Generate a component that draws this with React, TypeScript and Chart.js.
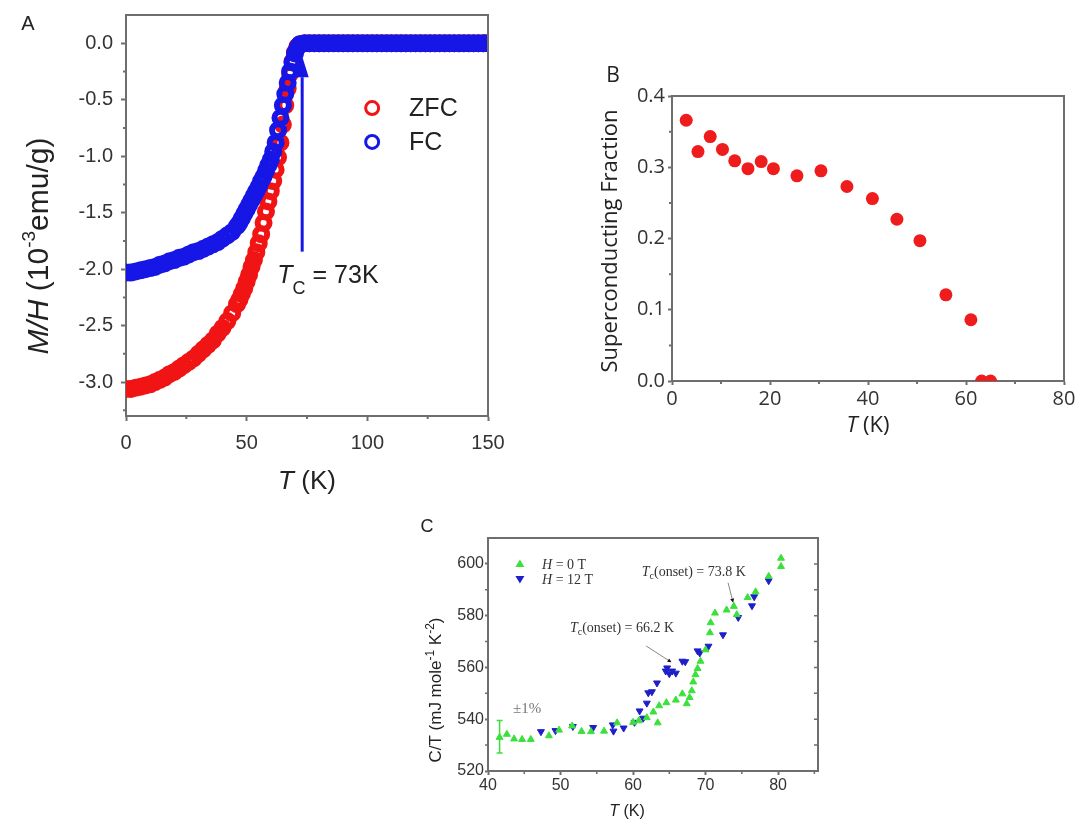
import React, { useEffect, useRef } from "react";
import { Chart, registerables } from "chart.js";

Chart.register(...registerables);

const SANS = '"Liberation Sans", Arial, sans-serif';
const OPEN = '"Open Sans", sans-serif';
const SERIF = '"Liberation Serif", "Times New Roman", serif';
const AXIS = "#6e6e6e";
const LABEL = "#333333";
const RED = "#f01414";
const BLUE = "#1616e6";
const GREEN = "#3ce03c";
const NAVY = "#1f1fc8";

// ---------------- Panel A : M/H vs T ----------------
const tempA = [
  0, 2, 4, 6, 8, 10, 12, 14, 16, 18, 20, 22, 24, 26, 28, 30, 32, 34, 36, 38, 40, 42, 44,
  46, 47, 48, 49, 50, 51, 52, 53, 54, 55, 56, 57, 58, 59, 60, 61, 62, 63, 64, 65, 66, 67, 68, 69, 70, 71, 72,
  74, 76, 78, 80, 82, 84, 86, 88, 90, 92, 94, 96, 98, 100, 102, 104, 106, 108, 110, 112, 114, 116, 118, 120,
  122, 124, 126, 128, 130, 132, 134, 136, 138, 140, 142, 144, 146, 148, 150,
];
const fcA = [
  -2.03, -2.03, -2.02, -2.01, -2.0, -1.99, -1.98, -1.96, -1.95, -1.93, -1.92, -1.9, -1.89, -1.87, -1.85, -1.84,
  -1.82, -1.8, -1.78, -1.76, -1.73, -1.7, -1.67,
  -1.62, -1.59, -1.55, -1.51, -1.47, -1.43, -1.39, -1.35, -1.31, -1.27, -1.22, -1.18, -1.13, -1.08, -1.03, -0.96,
  -0.88, -0.77, -0.66, -0.55, -0.45, -0.35, -0.25, -0.17, -0.09, -0.04, -0.01,
  0, 0, 0, 0, 0, 0, 0, 0, 0, 0, 0, 0, 0, 0, 0, 0, 0, 0, 0, 0, 0, 0, 0, 0, 0, 0, 0, 0, 0, 0, 0, 0, 0, 0, 0, 0, 0, 0, 0,
];
const zfcA = [
  -3.06, -3.06, -3.05, -3.04, -3.03, -3.02, -3.0, -2.98, -2.96, -2.93, -2.91, -2.88, -2.85, -2.82, -2.79, -2.75,
  -2.71, -2.67, -2.63, -2.57, -2.52, -2.46, -2.39,
  -2.31, -2.27, -2.22, -2.17, -2.11, -2.05, -1.98, -1.92, -1.85, -1.77, -1.69, -1.59, -1.49, -1.4, -1.31, -1.22,
  -1.12, -1.01, -0.88, -0.72, -0.55, -0.4, -0.27, -0.16, -0.08, -0.03, -0.01,
  0, 0, 0, 0, 0, 0, 0, 0, 0, 0, 0, 0, 0, 0, 0, 0, 0, 0, 0, 0, 0, 0, 0, 0, 0, 0, 0, 0, 0, 0, 0, 0, 0, 0, 0, 0, 0, 0, 0,
];
const xTicksA = [0, 50, 100, 150];
const xMinorA = [25, 75, 125];
const yTicksA = [0, -0.5, -1, -1.5, -2, -2.5, -3];
const yMinorA = [-0.25, -0.75, -1.25, -1.75, -2.25, -2.75, -3.25];
const legendA = ["ZFC", "FC"];
const tcA = 73;

// ---------------- Panel B : superconducting fraction ----------------
const tempB = [2.9, 5.3, 7.8, 10.3, 12.8, 15.5, 18.2, 20.7, 25.5, 30.4, 35.7, 40.9, 45.9, 50.6, 55.9, 61.0, 63.2, 65.0];
const fracB = [0.366, 0.322, 0.343, 0.325, 0.309, 0.298, 0.308, 0.298, 0.288, 0.295, 0.273, 0.256, 0.227, 0.197, 0.121, 0.086, 0.0, 0.0];
const xTicksB = [0, 20, 40, 60, 80];
const xMinorB = [10, 30, 50, 70];
const yTicksB = [0, 0.1, 0.2, 0.3, 0.4];
const yMinorB = [0.05, 0.15, 0.25, 0.35];

// ---------------- Panel C : C/T vs T ----------------
const tempC0 = [
  41.6, 42.6, 43.6, 44.7, 45.9, 48.4, 49.8, 51.6, 52.9, 54.2, 56.0, 57.8, 60.0, 60.8, 61.9, 62.8, 63.4, 63.6, 64.6,
  65.9, 66.8, 67.4, 67.8, 68.1, 68.3, 68.6, 68.9, 69.3, 70.0, 70.6, 70.7, 71.3, 72.9, 73.9, 74.3, 75.8, 76.9, 78.7,
  80.4, 80.4,
];
const ctC0 = [
  533.0, 534.2, 532.4, 532.2, 532.2, 533.6, 535.8, 537.4, 535.3, 535.2, 535.4, 538.6, 538.8, 539.4, 540.6, 542.8,
  538.6, 545.2, 546.4, 547.4, 549.8, 546.0, 548.4, 551.0, 554.4, 557.2, 559.6, 562.4, 566.8, 573.4, 577.3, 581.0,
  582.2, 583.6, 580.4, 587.0, 589.2, 595.2, 599.0, 602.2,
];
const tempC12 = [
  47.3, 49.3, 51.7, 54.5, 57.2, 57.3, 58.7, 60.2, 60.9, 61.4, 61.9, 62.1, 62.6, 63.3, 64.5, 64.7, 65.0, 65.4, 65.9,
  66.8, 67.2, 68.9, 69.2, 70.4, 72.4, 74.5, 76.4, 76.7, 78.7,
];
const ctC12 = [
  535.2, 535.6, 537.2, 536.8, 537.8, 535.4, 536.6, 538.8, 543.2, 540.4, 546.2, 550.2, 550.6, 554.0, 558.6, 559.8,
  557.6, 558.6, 557.8, 562.4, 562.2, 566.4, 565.6, 568.2, 572.6, 579.3, 583.8, 587.3, 593.5,
];
const errT = [41.6];
const errLo = [527.0];
const errHi = [539.5];
const xTicksC = [40, 50, 60, 70, 80];
const xMinorC = [45, 55, 65, 75, 85];
const yTicksC = [520, 540, 560, 580, 600];
const yMinorC = [530, 550, 570, 590];
const onsetC = ["73.8", "66.2"];

// ---------------- helpers ----------------
function rich(ctx: any, segs: any[], x: number, y: number, rot: number, align: string, color: string) {
  ctx.save();
  ctx.translate(x, y);
  if (rot) ctx.rotate(rot);
  ctx.textBaseline = "alphabetic";
  ctx.textAlign = "left";
  const ws = segs.map((s) => {
    ctx.font = s.f;
    return ctx.measureText(s.t).width;
  });
  const total = ws.reduce((a: number, b: number) => a + b, 0);
  let cx = align === "center" ? -total / 2 : 0;
  segs.forEach((s, i) => {
    ctx.font = s.f;
    ctx.fillStyle = s.c || color;
    ctx.fillText(s.t, cx, s.dy || 0);
    cx += ws[i];
  });
  ctx.restore();
}

function frame(chart: any, o: any) {
  const { ctx, chartArea: a, scales } = chart;
  ctx.save();
  ctx.strokeStyle = AXIS;
  ctx.lineWidth = o.lw;
  ctx.beginPath();
  ctx.moveTo(a.left, a.top);
  ctx.lineTo(a.right, a.top);
  ctx.lineTo(a.right, a.bottom);
  ctx.stroke();
  ctx.lineWidth = o.mw;
  ctx.beginPath();
  for (const v of o.xMinor) {
    const px = scales.x.getPixelForValue(v);
    if (px > a.right + 1) continue;
    ctx.moveTo(px, a.bottom);
    ctx.lineTo(px, a.bottom + o.mlen);
  }
  for (const v of o.yMinor) {
    const py = scales.y.getPixelForValue(v);
    ctx.moveTo(a.left, py);
    ctx.lineTo(a.left - o.mlen, py);
  }
  if (o.rightTicks) {
    for (const v of o.rightTicks) {
      const py = scales.y.getPixelForValue(v);
      ctx.moveTo(a.right, py);
      ctx.lineTo(a.right - o.rlen, py);
    }
  }
  ctx.stroke();
  ctx.restore();
}

function linAxis(p: any) {
  return {
    type: "linear",
    min: p.min,
    max: p.max,
    afterBuildTicks: (s: any) => {
      s.ticks = p.ticks.map((v: number) => ({ value: v }));
    },
    afterFit: (s: any) => {
      if (p.horizontal) s.height = p.size;
      else s.width = p.size;
      s.paddingTop = 0;
      s.paddingBottom = 0;
      s.paddingLeft = 0;
      s.paddingRight = 0;
    },
    grid: {
      display: true,
      drawOnChartArea: false,
      drawTicks: true,
      tickLength: p.tickLen,
      tickColor: AXIS,
      tickWidth: p.lw,
    },
    border: { display: true, color: AXIS, width: p.lw },
    ticks: {
      font: { family: p.family, size: p.fontSize },
      color: LABEL,
      padding: p.pad,
      maxRotation: 0,
      autoSkip: false,
      callback: (v: any) => p.fmt(v),
    },
    title: { display: false },
  };
}

function arrow(ctx: any, x1: number, y1: number, x2: number, y2: number, lineColor: string, headColor: string, len: number, half: number, lw: number) {
  const ang = Math.atan2(y2 - y1, x2 - x1);
  const bx = x2 - Math.cos(ang) * len;
  const by = y2 - Math.sin(ang) * len;
  ctx.save();
  ctx.strokeStyle = lineColor;
  ctx.lineWidth = lw;
  ctx.beginPath();
  ctx.moveTo(x1, y1);
  ctx.lineTo(bx, by);
  ctx.stroke();
  ctx.fillStyle = headColor;
  ctx.beginPath();
  ctx.moveTo(x2, y2);
  ctx.lineTo(bx + Math.sin(ang) * half, by - Math.cos(ang) * half);
  ctx.lineTo(bx - Math.sin(ang) * half, by + Math.cos(ang) * half);
  ctx.closePath();
  ctx.fill();
  ctx.restore();
}

// ---------------- chart configs ----------------
function ringSet(label: string, values: number[], color: string, order: number) {
  return {
    label,
    data: tempA.map((t, i) => ({ x: t, y: values[i] })),
    pointRadius: 6,
    borderWidth: 6,
    pointBorderWidth: 6,
    borderColor: color,
    pointBorderColor: color,
    backgroundColor: "rgba(0,0,0,0)",
    pointBackgroundColor: "rgba(0,0,0,0)",
    order,
  };
}

function makeA(): any {
  return {
    type: "scatter",
    data: {
      datasets: [ringSet(legendA[1], fcA, BLUE, 0), ringSet(legendA[0], zfcA, RED, 1)],
    },
    options: {
      animation: false,
      responsive: false,
      events: [],
      layout: { padding: { left: 0, right: 32, top: 15, bottom: 0 } },
      plugins: { legend: { display: false }, tooltip: { enabled: false } },
      scales: {
        x: linAxis({ min: 0, max: 150, ticks: xTicksA, horizontal: true, size: 84, tickLen: 5, lw: 2, family: SANS, fontSize: 20, pad: 10, fmt: (v: number) => String(v) }),
        y: linAxis({ min: -3.3, max: 0.25, ticks: yTicksA, horizontal: false, size: 126, tickLen: 5, lw: 2, family: SANS, fontSize: 20, pad: 8, fmt: (v: number) => v.toFixed(1) }),
      },
    },
    plugins: [
      {
        id: "extrasA",
        afterDraw(chart: any) {
          const { ctx, scales } = chart;
          const x = scales.x;
          const y = scales.y;
          frame(chart, { lw: 2, mw: 2, mlen: 3, xMinor: xMinorA, yMinor: yMinorA });
          // Tc arrow
          const ax = x.getPixelForValue(tcA);
          arrow(ctx, ax, y.getPixelForValue(-1.845), ax, y.getPixelForValue(-0.115), BLUE, BLUE, 21, 6.5, 3);
          rich(ctx, [
            { t: "T", f: `italic 25px ${SANS}` },
            { t: "C", f: `18px ${SANS}`, dy: 11 },
            { t: ` = ${tcA}K`, f: `25px ${SANS}` },
          ], x.getPixelForValue(62.7), y.getPixelForValue(-2.12), 0, "left", "#222");
          // legend
          const legY = [-0.574, -0.874];
          const legC = [RED, BLUE];
          ctx.save();
          for (let i = 0; i < 2; i++) {
            const cx = x.getPixelForValue(102);
            const cy = y.getPixelForValue(legY[i]);
            ctx.strokeStyle = legC[i];
            ctx.lineWidth = 3;
            ctx.beginPath();
            ctx.arc(cx, cy, 6.5, 0, Math.PI * 2);
            ctx.stroke();
            ctx.fillStyle = "#222";
            ctx.font = `25px ${SANS}`;
            ctx.textBaseline = "middle";
            ctx.textAlign = "left";
            ctx.fillText(legendA[i], x.getPixelForValue(117.3), cy + 1);
          }
          ctx.restore();
          // titles
          rich(ctx, [
            { t: "M/H", f: `italic 30px ${SANS}` },
            { t: " (10", f: `30px ${SANS}` },
            { t: "-3", f: `19px ${SANS}`, dy: -13 },
            { t: "emu/g)", f: `30px ${SANS}` },
          ], 48, 246, -Math.PI / 2, "center", "#222");
          rich(ctx, [
            { t: "T", f: `italic 26px ${SANS}` },
            { t: " (K)", f: `26px ${SANS}` },
          ], (chart.chartArea.left + chart.chartArea.right) / 2, 489, 0, "center", "#222");
          rich(ctx, [{ t: "A", f: `20px ${SANS}` }], 28, 30, 0, "center", "#222");
        },
      },
    ],
  };
}

function makeB(): any {
  return {
    type: "scatter",
    data: {
      datasets: [
        {
          label: "fraction",
          data: tempB.map((t, i) => ({ x: t, y: fracB[i] })),
          pointRadius: 6.5,
          pointBorderWidth: 0,
          borderWidth: 0,
          backgroundColor: "#ee1c1c",
          pointBackgroundColor: "#ee1c1c",
          borderColor: "#ee1c1c",
        },
      ],
    },
    options: {
      animation: false,
      responsive: false,
      events: [],
      layout: { padding: { left: 0, right: 13, top: 56, bottom: 0 } },
      plugins: { legend: { display: false }, tooltip: { enabled: false } },
      scales: {
        x: linAxis({ min: 0, max: 80, ticks: xTicksB, horizontal: true, size: 59, tickLen: 4, lw: 2, family: OPEN, fontSize: 20, pad: 2, fmt: (v: number) => String(v) }),
        y: linAxis({ min: 0, max: 0.4, ticks: yTicksB, horizontal: false, size: 92, tickLen: 4, lw: 2, family: OPEN, fontSize: 20, pad: 3, fmt: (v: number) => v.toFixed(1) }),
      },
    },
    plugins: [
      {
        id: "extrasB",
        afterDraw(chart: any) {
          const { ctx, chartArea: a } = chart;
          frame(chart, { lw: 2, mw: 2, mlen: 3, xMinor: xMinorB, yMinor: yMinorB });
          rich(ctx, [{ t: "Superconducting Fraction", f: `22px ${OPEN}` }], 37, 201, -Math.PI / 2, "center", "#222");
          rich(ctx, [
            { t: "T", f: `italic 22px ${OPEN}` },
            { t: " (K)", f: `22px ${OPEN}` },
          ], (a.left + a.right) / 2, 392, 0, "center", "#222");
          rich(ctx, [{ t: "B", f: `21px ${OPEN}` }], 33, 42, 0, "center", "#222");
        },
      },
    ],
  };
}

function makeC(): any {
  return {
    type: "scatter",
    data: {
      datasets: [
        {
          label: "H = 12 T",
          data: tempC12.map((t, i) => ({ x: t, y: ctC12[i] })),
          pointStyle: "triangle",
          rotation: 180,
          pointRotation: 180,
          pointRadius: 4,
          pointBorderWidth: 1,
          backgroundColor: NAVY,
          pointBackgroundColor: NAVY,
          borderColor: NAVY,
          pointBorderColor: NAVY,
          order: 1,
        },
        {
          label: "H = 0 T",
          data: tempC0.map((t, i) => ({ x: t, y: ctC0[i] })),
          pointStyle: "triangle",
          pointRadius: 4,
          pointBorderWidth: 1,
          backgroundColor: GREEN,
          pointBackgroundColor: GREEN,
          borderColor: GREEN,
          pointBorderColor: GREEN,
          order: 0,
        },
      ],
    },
    options: {
      animation: false,
      responsive: false,
      events: [],
      layout: { padding: { left: 0, right: 22, top: 28, bottom: 0 } },
      plugins: { legend: { display: false }, tooltip: { enabled: false } },
      scales: {
        x: linAxis({ min: 40, max: 85.5, ticks: xTicksC, horizontal: true, size: 57, tickLen: 4, lw: 2, family: SANS, fontSize: 16, pad: 1, fmt: (v: number) => String(v) }),
        y: linAxis({ min: 520, max: 610, ticks: yTicksC, horizontal: false, size: 68, tickLen: 3, lw: 2, family: SANS, fontSize: 16, pad: 1, fmt: (v: number) => String(v) }),
      },
    },
    plugins: [
      {
        id: "extrasC",
        afterDraw(chart: any) {
          const { ctx, scales } = chart;
          const x = scales.x;
          const y = scales.y;
          frame(chart, {
            lw: 2, mw: 1.5, mlen: 3, xMinor: xMinorC, yMinor: yMinorC,
            rightTicks: [...yTicksC, ...yMinorC], rlen: 4,
          });
          // error bar
          ctx.save();
          ctx.strokeStyle = GREEN;
          ctx.lineWidth = 1.5;
          for (let i = 0; i < errT.length; i++) {
            const ex = x.getPixelForValue(errT[i]);
            const y1 = y.getPixelForValue(errLo[i]);
            const y2 = y.getPixelForValue(errHi[i]);
            ctx.beginPath();
            ctx.moveTo(ex, y1);
            ctx.lineTo(ex, y2);
            ctx.moveTo(ex - 3, y1);
            ctx.lineTo(ex + 3, y1);
            ctx.moveTo(ex - 3, y2);
            ctx.lineTo(ex + 3, y2);
            ctx.stroke();
          }
          ctx.restore();
          // legend
          const legY = [600, 594.2];
          const legCol = [GREEN, NAVY];
          const legTxt = [" = 0 T", " = 12 T"];
          ctx.save();
          for (let i = 0; i < 2; i++) {
            const cx = x.getPixelForValue(44.4);
            const cy = y.getPixelForValue(legY[i]);
            ctx.fillStyle = legCol[i];
            ctx.beginPath();
            if (i === 0) {
              ctx.moveTo(cx, cy - 4.5);
              ctx.lineTo(cx - 4.5, cy + 3);
              ctx.lineTo(cx + 4.5, cy + 3);
            } else {
              ctx.moveTo(cx, cy + 4.5);
              ctx.lineTo(cx - 4.5, cy - 3);
              ctx.lineTo(cx + 4.5, cy - 3);
            }
            ctx.closePath();
            ctx.fill();
            rich(ctx, [
              { t: "H", f: `italic 14px ${SERIF}` },
              { t: legTxt[i], f: `14px ${SERIF}` },
            ], x.getPixelForValue(47.45), cy + 5, 0, "left", "#333");
          }
          ctx.restore();
          // onset annotations
          rich(ctx, [
            { t: "T", f: `italic 14px ${SERIF}` },
            { t: "c", f: `10px ${SERIF}`, dy: 3 },
            { t: `(onset) = ${onsetC[0]} K`, f: `14px ${SERIF}` },
          ], x.getPixelForValue(61.2), y.getPixelForValue(595.4), 0, "left", "#333");
          rich(ctx, [
            { t: "T", f: `italic 14px ${SERIF}` },
            { t: "c", f: `10px ${SERIF}`, dy: 3 },
            { t: `(onset) = ${onsetC[1]} K`, f: `14px ${SERIF}` },
          ], x.getPixelForValue(51.3), y.getPixelForValue(573.5), 0, "left", "#333");
          arrow(ctx, x.getPixelForValue(73.1), y.getPixelForValue(592.7), x.getPixelForValue(73.8), y.getPixelForValue(585.0), "#888", "#111", 4, 2, 1);
          arrow(ctx, x.getPixelForValue(61.8), y.getPixelForValue(568.3), x.getPixelForValue(65.3), y.getPixelForValue(562.0), "#888", "#111", 4, 2, 1);
          rich(ctx, [{ t: "\u00b11%", f: `15px ${SERIF}` }], x.getPixelForValue(43.45), y.getPixelForValue(542.3), 0, "left", "#777");
          // axis titles
          rich(ctx, [
            { t: "C/T (mJ mole", f: `17px ${SANS}` },
            { t: "-1", f: `12px ${SANS}`, dy: -7 },
            { t: " K", f: `17px ${SANS}` },
            { t: "-2", f: `12px ${SANS}`, dy: -7 },
            { t: ")", f: `17px ${SANS}` },
          ], 21, 180, -Math.PI / 2, "center", "#222");
          rich(ctx, [
            { t: "T", f: `italic 16px ${SANS}` },
            { t: " (K)", f: `16px ${SANS}` },
          ], 207, 306, 0, "center", "#222");
          rich(ctx, [{ t: "C", f: `18px ${SANS}` }], 7, 22, 0, "center", "#222");
        },
      },
    ],
  };
}

function ChartBox({ x, y, w, h, make }: any) {
  const ref = useRef<HTMLCanvasElement | null>(null);
  useEffect(() => {
    if (!ref.current) return;
    const chart = new Chart(ref.current, make());
    return () => chart.destroy();
  }, []);
  return (
    <div style={{ position: "absolute", left: x, top: y, width: w, height: h }}>
      <canvas ref={ref} width={w} height={h} style={{ width: w, height: h, display: "block" }} />
    </div>
  );
}

export default function App() {
  return (
    <div style={{ position: "absolute", left: 0, top: 0, width: 1077, height: 828, background: "#fff", overflow: "hidden" }}>
      <ChartBox x={0} y={0} w={520} h={500} make={makeA} />
      <ChartBox x={580} y={40} w={497} h={400} make={makeB} />
      <ChartBox x={420} y={510} w={420} h={318} make={makeC} />
    </div>
  );
}
